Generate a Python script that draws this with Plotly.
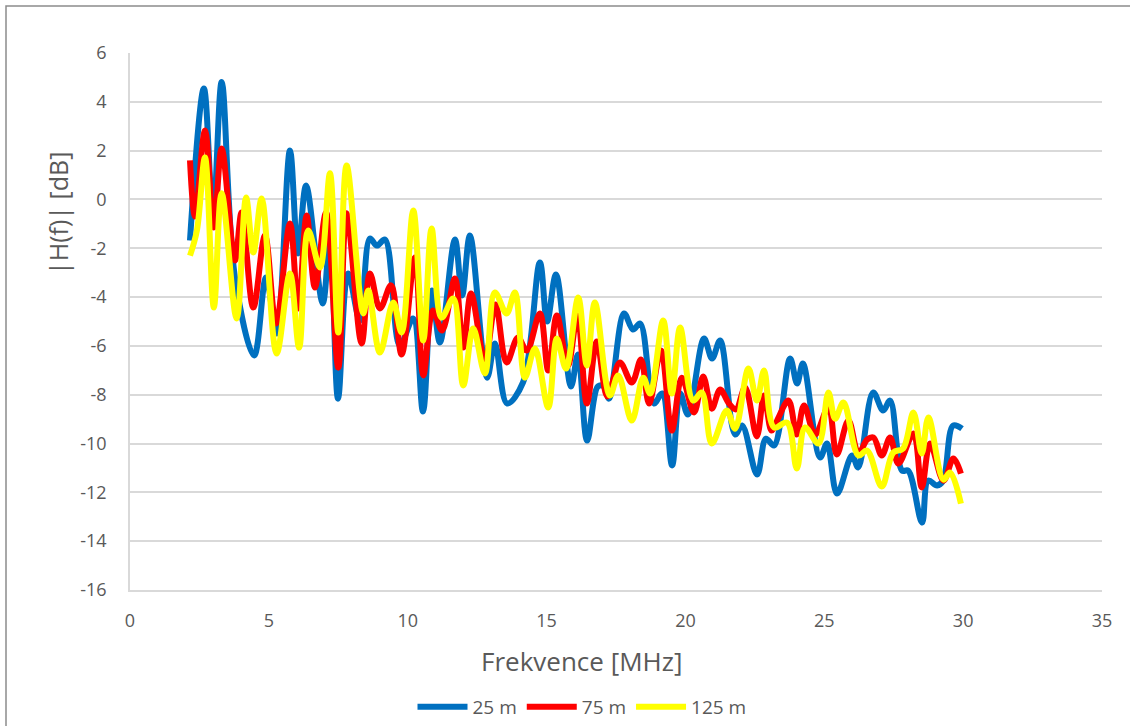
import plotly.graph_objects as go

# Frequency response magnitude |H(f)| for three line lengths
freq_25 = [2.16, 2.66, 2.99, 3.30, 3.78, 4.47, 4.90, 5.28, 5.76, 6.05, 6.34, 6.94, 7.20, 7.49,
           7.85, 8.28, 8.64, 8.89, 9.18, 9.72, 10.19, 10.55, 10.87, 11.16, 11.70, 11.96, 12.24,
           12.86, 13.14, 13.58, 14.15, 14.76, 15.02, 15.34, 15.88, 16.13, 16.46, 16.85, 17.07,
           17.25, 17.79, 18.11, 18.37, 18.87, 19.16, 19.52, 19.81, 20.09, 20.67, 20.96, 21.25,
           21.79, 22.04, 22.58, 22.90, 23.19, 23.77, 24.02, 24.23, 24.85, 25.10, 25.46, 26.00,
           26.22, 26.76, 27.12, 27.37, 27.80, 28.02, 28.52, 28.74, 29.06, 29.28, 29.64, 29.96]
h_25 = [-1.68, 4.55, -0.66, 4.81, -3.20, -6.39, -3.20, -5.49, 2.01, -2.21, 0.57, -4.26, -1.55, -8.16,
        -3.03, -4.96, -1.60, -1.89, -1.64, -5.98, -4.88, -8.69, -3.73, -5.86, -1.64, -3.93, -1.48,
        -7.30, -5.90, -8.36, -7.50, -2.58, -5.00, -3.07, -7.66, -6.35, -9.88, -7.66, -7.66,
        -8.16, -4.67, -5.33, -5.08, -8.36, -7.95, -10.90, -7.95, -8.81, -5.70, -6.52, -5.78,
        -9.63, -9.26, -11.27, -9.80, -10.08, -6.52, -7.54, -6.72, -10.57, -10.00, -12.05, -10.49,
        -10.98, -7.91, -8.65, -8.24, -11.11, -11.11, -13.24, -11.52, -11.72, -11.52, -9.26, -9.39]

freq_75 = [2.16, 2.34, 2.70, 3.02, 3.30, 3.78, 4.02, 4.44, 4.86, 5.26, 5.76, 6.06, 6.36, 6.66,
           7.06, 7.50, 7.80, 8.34, 8.64, 9.00, 9.40, 9.78, 10.26, 10.56, 10.91, 11.24, 11.70,
           12.00, 12.28, 12.78, 13.16, 13.56, 13.97, 14.29, 14.76, 15.06, 15.37, 15.77, 16.11,
           16.45, 16.81, 17.19, 17.64, 18.07, 18.40, 18.69, 19.12, 19.51, 19.87, 20.31, 20.64,
           20.95, 21.25, 21.57, 21.82, 22.15, 22.57, 22.83, 23.10, 23.30, 23.71, 24.01, 24.27,
           24.67, 25.15, 25.45, 25.87, 26.23, 26.54, 26.77, 27.07, 27.37, 27.67, 28.21, 28.51,
           28.81, 29.29, 29.65, 29.92]
h_75 = [1.60, -0.70, 2.83, -1.15, 2.09, -2.50, -0.53, -4.43, -1.48, -5.08, -0.98, -4.47, -0.66, -3.61,
        -0.53, -6.89, -0.57, -5.90, -3.03, -4.47, -3.52, -6.35, -2.38, -7.21, -4.55, -5.37, -3.24,
        -6.07, -3.85, -6.60, -4.30, -6.68, -5.66, -6.19, -4.67, -7.01, -4.75, -6.80, -4.75,
        -8.36, -5.82, -8.07, -6.68, -7.50, -6.56, -8.36, -6.19, -9.47, -7.30, -8.73, -7.25,
        -8.57, -7.79, -8.36, -8.60, -7.70, -9.71, -8.03, -9.47, -9.06, -8.24, -9.63, -8.44,
        -9.63, -8.51, -10.45, -9.06, -10.41, -9.84, -9.75, -10.49, -9.75, -10.82, -9.59, -11.80,
        -10.00, -11.52, -10.61, -11.23]

freq_125 = [2.16, 2.41, 2.70, 3.02, 3.30, 3.84, 4.18, 4.44, 4.74, 5.28, 5.76, 6.09, 6.42, 6.84,
            7.20, 7.50, 7.80, 8.40, 8.58, 9.00, 9.48, 9.78, 10.20, 10.56, 10.86, 11.22, 11.64,
            12.00, 12.36, 12.78, 13.14, 13.56, 13.86, 14.22, 14.58, 15.06, 15.37, 15.70, 16.14,
            16.45, 16.74, 17.28, 17.58, 18.07, 18.48, 18.73, 19.20, 19.51, 19.81, 20.28, 20.59,
            20.95, 21.49, 21.79, 22.27, 22.57, 22.83, 23.19, 23.66, 24.01, 24.31, 24.79, 25.15,
            25.39, 25.69, 26.23, 26.54, 27.07, 27.48, 27.84, 28.21, 28.51, 28.75, 29.29, 29.53,
            29.92]
h_125 = [-2.30, -1.27, 1.72, -4.43, 0.25, -4.88, 0.08, -2.17, 0.04, -6.31, -3.03, -6.07, -1.27, -2.79,
         1.07, -5.45, 1.39, -4.67, -3.73, -6.27, -4.22, -5.45, -0.45, -5.78, -1.19, -4.84, -4.06,
         -7.62, -5.29, -7.13, -3.81, -4.67, -3.81, -7.30, -6.11, -8.52, -5.70, -6.93, -4.02,
         -6.80, -4.22, -8.03, -7.21, -9.06, -7.30, -7.95, -4.96, -7.95, -5.25, -8.24, -7.91,
         -10.00, -8.65, -9.39, -6.93, -8.24, -7.01, -9.34, -9.14, -11.02, -9.34, -10.00, -7.91,
         -8.98, -8.32, -10.49, -10.29, -11.76, -10.37, -10.20, -8.73, -10.41, -8.93, -11.48, -11.19,
         -12.46]

series = [
    ("25 m", freq_25, h_25, "#0070C0"),
    ("75 m", freq_75, h_75, "#FF0000"),
    ("125 m", freq_125, h_125, "#FFFF00"),
]

y_ticks = list(range(-16, 7, 2))
y_labels = [str(v) for v in y_ticks]  # plain hyphen for negatives
x_ticks = list(range(0, 36, 5))

FONT = "'Open Sans', Lato, sans-serif"
TEXT = "#595959"

fig = go.Figure()
for name, fx, fy, color in series:
    fig.add_trace(go.Scatter(
        x=fx, y=fy, name=name, mode="lines",
        line=dict(color=color, width=6, shape="spline", smoothing=1.0),
    ))

W, H = 1130, 726
L, R, T, B = 130, 28, 53, 136
pw, ph = W - L - R, H - T - B


def px(xp):
    return (xp - L) / pw


def py(yp):
    return (H - B - yp) / ph


fig.update_layout(
    width=W, height=H,
    margin=dict(l=L, r=R, t=T, b=B, autoexpand=False),
    paper_bgcolor="white", plot_bgcolor="white",
    font=dict(family=FONT, size=16, color=TEXT),
    showlegend=True,
    legend=dict(
        orientation="h", x=px(582), y=py(707), xanchor="center", yanchor="middle",
        font=dict(size=19, color=TEXT), itemwidth=50, tracegroupgap=0,
        bgcolor="rgba(0,0,0,0)",
    ),
    xaxis=dict(
        range=[0, 35], tickvals=x_ticks, showgrid=False, zeroline=False,
        showline=True, linecolor="#D9D9D9", linewidth=1.5, ticks="",
        ticklabelstandoff=14, tickfont=dict(size=18, color=TEXT),
    ),
    yaxis=dict(
        range=[-16, 6], tickvals=y_ticks, ticktext=y_labels, showgrid=True,
        gridcolor="#D9D9D9", gridwidth=1.5,
        zeroline=False, showline=True, linecolor="#D9D9D9", linewidth=1.5, ticks="",
        ticklabelstandoff=18, tickfont=dict(size=18, color=TEXT),
    ),
    annotations=[
        dict(text="Frekvence [MHz]", xref="paper", yref="paper", x=px(581), y=py(661),
             xanchor="center", yanchor="middle", showarrow=False,
             font=dict(size=26, color=TEXT, family=FONT)),
        dict(text="|H(f)| [dB]", xref="paper", yref="paper", x=px(58), y=py(214),
             xanchor="center", yanchor="middle", showarrow=False, textangle=-90,
             font=dict(size=25, color=TEXT, family=FONT)),
    ],
    shapes=[
        dict(type="rect", xref="paper", yref="paper", x0=px(6), x1=px(1150), y0=py(760), y1=py(6),
             line=dict(color="#8C8C8C", width=1.5), fillcolor="rgba(0,0,0,0)", layer="below"),
    ],
)

fig.write_html("out.html")
